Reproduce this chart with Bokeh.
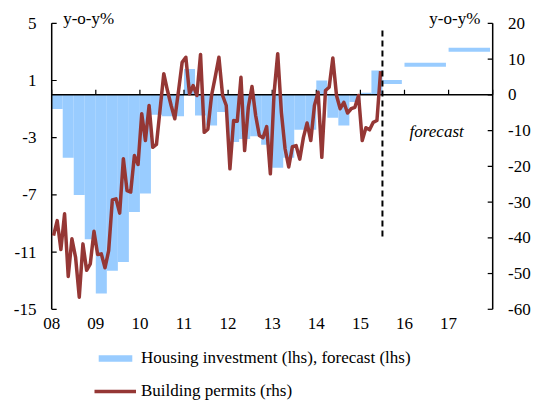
from bokeh.plotting import figure
from bokeh.models import Range1d, Label, Legend, LegendItem
from bokeh.core.properties import value
from bokeh.embed import file_html
from bokeh.resources import INLINE

# ---------------- data ----------------
years = [2008, 2009, 2010, 2011, 2012, 2013, 2014, 2015, 2016, 2017]
year_labels = ["08", "09", "10", "11", "12", "13", "14", "15", "16", "17"]
lhs_ticks = [-15, -11, -7, -3, 1, 5]
rhs_ticks = [-60, -50, -40, -30, -20, -10, 0, 10, 20]

# quarterly housing investment, y-o-y % (lhs), 2008Q1 .. 2015Q2
quarter_start = [2008 + 0.25 * i for i in range(30)]
housing_inv = [
    -1.0, -4.4, -7.0, -10.1,
    -13.9, -12.3, -11.7, -8.2,
    -6.9, -1.4, -1.5, -1.5,
    1.8, -1.45, -2.15, -1.2,
    -3.3, -3.1, -2.9, -3.5,
    -5.1, -4.4, -2.45, -2.45,
    1.0, -1.6, -2.15, -0.5,
    0.15, 1.7,
]

# forecast periods (lhs)
forecast_start = [2015.5, 2016.0, 2017.0]
forecast_end = [2016.0, 2017.0, 2018.0]
forecast_vals = [0.9, 2.1, 3.15]

# monthly building permits, y-o-y % (rhs), Jan 2008 .. Jun 2015
permit_month = [2008 + (k + 0.5) / 12 for k in range(90)]
permits = [
    -39.4, -35.2, -43.3, -33.3, -50.8, -40.3, -45.5, -56.6, -41.7, -49.1, -47.3, -38.2,
    -44.7, -44.5, -48.4, -43.6, -29.4, -29.1, -33.1, -17.9, -26.8, -27.2, -17.0, -19.5,
    -5.3, -12.8, -3.0, -14.7, -13.9, -4.0, 5.9, 1.2, -3.0, -6.7, 1.0, 9.1,
    10.5, 0.3, 2.6, -0.2, 11.3, -10.5, -9.6, -0.2, 5.0, 10.5, -0.2, -3.0,
    -20.7, -7.2, -7.4, 4.9, -15.6, -3.5, 2.3, -5.8, -11.4, -12.0, -8.9, -22.1,
    0.3, 11.5, -4.9, -15.1, -20.2, -14.5, -14.2, -18.0, -11.9, -7.9, -12.8, -3.0,
    0.7, -17.5, 1.2, 2.1, 10.3, -0.2, -3.9, -2.1, -5.1, -3.9, -3.5, -0.2,
    -12.8, -9.2, -9.8, -7.7, -7.2, 6.6,
]

# chart extent
x_min, x_max = 2008, 2018
lhs_min, lhs_max = -15, 5
rhs_min, rhs_max = -60, 20
RATIO = 4  # rhs units per lhs unit

# the frame covers the whole canvas; axes, tick labels and legend are drawn inside it
W, H = 534, 401
x_lo, x_hi = 2006.839, 2018.948
lhs_top, lhs_bottom = 6.594, -21.448
rhs_top, rhs_bottom = lhs_top * RATIO, lhs_bottom * RATIO
tick_len_x = 0.113     # ~5 px in years
tick_len_y = 0.36      # ~5 px in lhs units
left_label_x = x_min - 0.345
right_label_x = x_max + 0.347
year_label_y = -16.0

BLUE = "#99CCFF"
RED = "#953735"
FONT = "'Liberation Serif'"
FS = "17px"

p = figure(
    width=W, height=H, frame_width=W, frame_height=H,
    min_border_left=0, min_border_right=0, min_border_top=0, min_border_bottom=0,
    x_range=Range1d(x_lo, x_hi), y_range=Range1d(lhs_bottom, lhs_top),
    output_backend="svg", toolbar_location=None, tools="",
)
p.extra_y_ranges = {"rhs": Range1d(rhs_bottom, rhs_top)}
p.axis.visible = False
p.grid.visible = False
p.outline_line_color = None
p.background_fill_color = "white"
p.border_fill_color = "white"

# bars
q_right = [q + 0.25 for q in quarter_start]
q_bot = [min(v, 0) for v in housing_inv]
q_top = [max(v, 0) for v in housing_inv]
bars = p.quad(left=quarter_start, right=q_right, bottom=q_bot, top=q_top,
              fill_color=BLUE, line_color=None)

# forecast levels
p.segment(x0=forecast_start, x1=[e - 0.06 for e in forecast_end],
          y0=forecast_vals, y1=forecast_vals,
          line_color=BLUE, line_width=4)

# axis lines (bottom tick to top tick)
p.segment(x0=[x_min, x_max], x1=[x_min, x_max], y0=[lhs_min] * 2, y1=[lhs_max] * 2,
          line_color="black", line_width=1.5)
# left ticks (inward) and labels
p.segment(x0=[x_min] * len(lhs_ticks), x1=[x_min + tick_len_x] * len(lhs_ticks),
          y0=lhs_ticks, y1=lhs_ticks, line_color="black", line_width=1.2)
p.text(x=[left_label_x] * len(lhs_ticks), y=lhs_ticks, text=[str(t) for t in lhs_ticks],
       text_font=value(FONT), text_font_size=value(FS), text_color="black",
       text_align="right", text_baseline="middle")
# right ticks (inward) and labels
p.segment(x0=[x_max - tick_len_x] * len(rhs_ticks), x1=[x_max] * len(rhs_ticks),
          y0=rhs_ticks, y1=rhs_ticks, y_range_name="rhs", line_color="black", line_width=1.2)
p.text(x=[right_label_x] * len(rhs_ticks), y=rhs_ticks, text=[str(t) for t in rhs_ticks],
       y_range_name="rhs", text_font=value(FONT), text_font_size=value(FS),
       text_color="black", text_align="left", text_baseline="middle")

# zero line with year ticks
p.segment(x0=[x_min], x1=[x_max], y0=[0], y1=[0], line_color="black", line_width=1.5)
p.segment(x0=years + [x_max], x1=years + [x_max], y0=[0] * 11, y1=[tick_len_y] * 11,
          line_color="black", line_width=1.2)

# year labels
p.text(x=years, y=[year_label_y] * len(years), text=year_labels,
       text_font=value(FONT), text_font_size=value(FS), text_color="black",
       text_align="center", text_baseline="middle")

# building permits
perm = p.line(permit_month, permits, y_range_name="rhs",
              line_color=RED, line_width=3.5, line_join="round")

# forecast divider
p.segment(x0=[forecast_start[0]], x1=[forecast_start[0]], y0=[18], y1=[-40],
          y_range_name="rhs", line_color="black", line_width=2, line_dash="6 4")

# texts
p.add_layout(Label(x=2008.26, y=5.34, text="y-o-y%", text_font=FONT, text_font_size=FS,
                   text_baseline="middle", text_align="left", text_color="black"))
p.add_layout(Label(x=2017.72, y=21.3, y_range_name="rhs", text="y-o-y%", text_font=FONT,
                   text_font_size=FS, text_baseline="middle", text_align="right",
                   text_color="black"))
p.add_layout(Label(x=2016.73, y=-10.3, y_range_name="rhs", text="forecast", text_font=FONT,
                   text_font_size=FS, text_font_style="italic", text_baseline="middle",
                   text_align="center", text_color="black"))

legend = Legend(items=[
    LegendItem(label="Housing investment (lhs), forecast (lhs)", renderers=[bars]),
    LegendItem(label="Building permits (rhs)", renderers=[perm]),
], location=(94, 0), orientation="vertical")
legend.glyph_width = 42
legend.glyph_height = 8
legend.label_height = 20
legend.label_standoff = 5
legend.spacing = 13
legend.padding = 0
legend.margin = 0
legend.border_line_color = None
legend.background_fill_alpha = 0
legend.label_text_font = FONT
legend.label_text_font_size = FS
legend.label_text_color = "black"
p.add_layout(legend)

open("out.html", "w").write(file_html(p, INLINE))
